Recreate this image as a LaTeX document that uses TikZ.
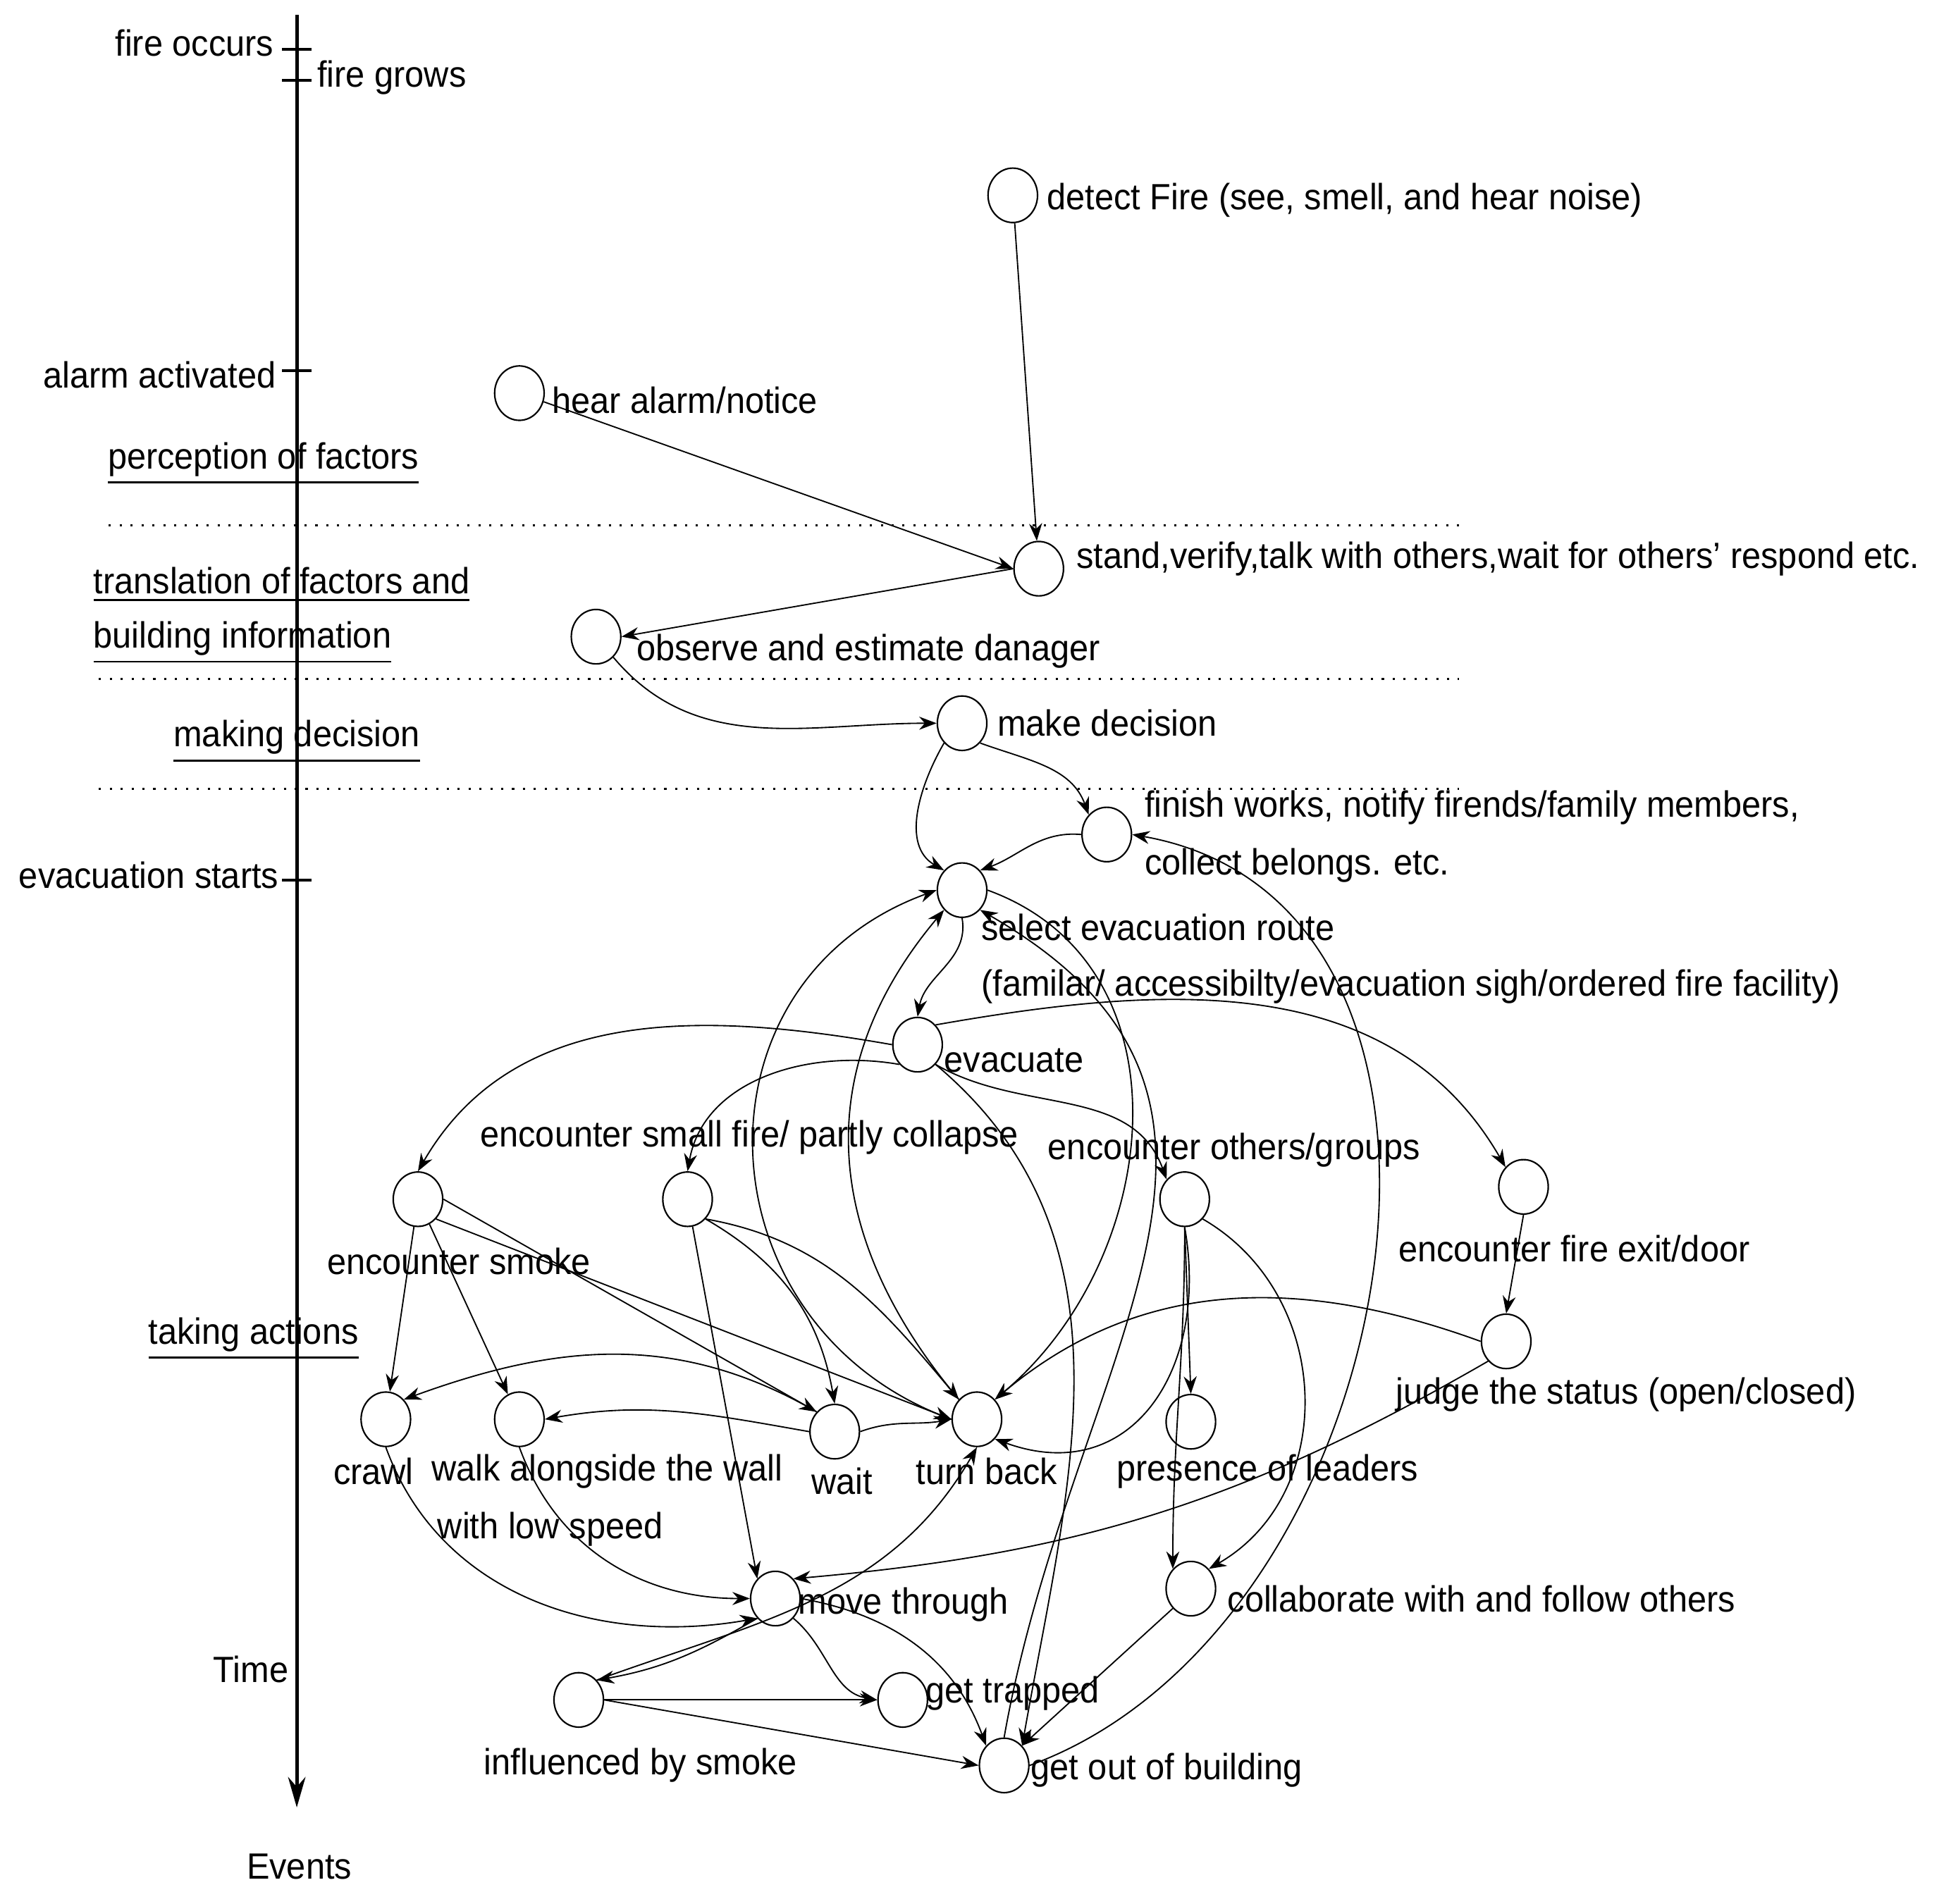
\documentclass[tikz,border=0pt]{standalone}
\usepackage{fontspec}
\setmainfont{Liberation Sans}[FakeStretch=0.94]
\usetikzlibrary{shapes.geometric,arrows.meta}
\begin{document}
\begin{tikzpicture}[x=0.01cm,y=-0.01cm,
 st/.style={draw,ellipse,minimum width=0.4cm,minimum height=0.44cm,inner sep=0pt,line width=0.35pt},
 lb/.style={anchor=west,inner sep=0pt,font=\fontsize{8.4}{10}\selectfont},
 lc/.style={inner sep=0pt,font=\fontsize{8.4}{10}\selectfont},
 e/.style={-{Stealth[length=4pt,width=3pt]},line width=0.3pt},
 dl/.style={dotted,line width=0.5pt}]
\useasboundingbox (0,0) rectangle (1568,1540);
% axis
\coordinate (t0) at (240,12); \coordinate (t1) at (240,1462);
\draw[-{Stealth[length=7pt,width=4pt]},line width=0.8pt] (t0) -- (t1);
\foreach \y in {40,65,300,712}{\draw[line width=0.6pt] (228,\y) -- (252,\y);}
\node[lc,anchor=east] at (222,35) {fire occurs};
\node[lb] at (256,63) {fire grows};
\node[lc,anchor=east] at (224,303) {alarm activated};
\node[lc,anchor=east] at (226,708) {evacuation starts};
\node[lc] at (203,1350) {Time};
\node[lc] at (242,1510) {Events};
% phase lines
\draw[dl] (88,425) -- (1185,425);
\draw[dl] (80,549) -- (1180,549);
\draw[dl] (80,638) -- (1180,638);
\node[lc] at (213,375) {\underline{perception of factors}};
\node[lb] at (75,473) {\underline{translation of factors and}};
\node[lb] at (75,520) {\underline{building information}};
\node[lc] at (240,600) {\underline{making decision}};
\node[lc] at (205,1083) {\underline{taking actions}};
% nodes
\node[st] (det) at (819,158) {};
\node[st] (hear) at (420,318) {};
\node[st] (stand) at (840,460) {};
\node[st] (obs) at (482,515) {};
\node[st] (dec) at (778,585) {};
\node[st] (fin) at (895,675) {};
\node[st] (sel) at (778,720) {};
\node[st] (eva) at (742,845) {};
\node[st] (smk) at (338,970) {};
\node[st] (sfire) at (556,970) {};
\node[st] (oth) at (958,970) {};
\node[st] (exit) at (1232,960) {};
\node[st] (judge) at (1218,1085) {};
\node[st] (crawl) at (312,1148) {};
\node[st] (walk) at (420,1148) {};
\node[st] (wait) at (675,1158) {};
\node[st] (turn) at (790,1148) {};
\node[st] (pres) at (963,1150) {};
\node[st] (move) at (627,1293) {};
\node[st] (coll) at (963,1285) {};
\node[st] (infl) at (468,1375) {};
\node[st] (trap) at (730,1375) {};
\node[st] (out) at (812,1428) {};
% labels
\node[lb] at (846,162) {detect Fire (see, smell, and hear noise)};
\node[lb] at (446,324) {hear alarm/notice};
\node[lb] at (870,452) {stand,verify,talk with others,wait for others' respond etc.};
\node[lb] at (514,527) {observe and estimate danager};
\node[lb] at (806,585) {make decision};
\node[lb] at (925,653) {finish works, notify firends/family members,};
\node[lb] at (925,700) {collect belongs. etc.};
\node[lb] at (793,750) {select evacuation route};
\node[lb] at (793,798) {(familar/ accessibilty/evacuation sigh/ordered fire facility)};
\node[lb] at (763,858) {evacuate};
\node[lc] at (606,920) {encounter small fire/ partly collapse};
\node[lc] at (998,930) {encounter others/groups};
\node[lc] at (1273,1010) {encounter fire exit/door};
\node[lc] at (371,1020) {encounter smoke};
\node[lc] at (1315,1128) {judge the status (open/closed)};
\node[lc] at (302,1190) {crawl};
\node[lc] at (491,1190) {walk alongside the wall};
\node[lc] at (445,1237) {with low speed};
\node[lc] at (681,1198) {wait};
\node[lc] at (798,1190) {turn back};
\node[lc] at (1025,1190) {presence of leaders};
\node[lb] at (645,1298) {move through};
\node[lb] at (992,1293) {collaborate with and follow others};
\node[lb] at (748,1370) {get trapped};
\node[lc] at (518,1428) {influenced by smoke};
\node[lb] at (833,1432) {get out of building};
% edges
\draw[e] (det) -- (stand);
\draw[e] (hear) -- (stand.west);
\draw[e] (stand.west) -- (obs.east);
\draw[e] (obs) to[out=-50,in=180] (dec.west);
\draw[e] (dec.south west) to[out=-120,in=150] (sel.north west);
\draw[e] (dec.south east) to[out=-20,in=110] (fin.north west);
\draw[e] (fin.west) to[out=175,in=20] (sel.north east);
\draw[e] (sel.south) to[out=-80,in=80] (eva.north);
\draw[e] (eva.west) to[out=170,in=60] (smk.north);
\draw[e] (eva.south west) to[out=170,in=80] (sfire.north);
\draw[e] (eva.south east) to[out=-30,in=110] (oth.north west);
\draw[e] (eva.north east) to[out=10,in=120] (exit.north west);
\draw[e] (eva.south east) to[out=-40,in=80] (out.north east);
% turn back / select arcs
\draw[e] (turn.west) to[out=160,in=200,looseness=1.3] (sel.west);
\draw[e] (turn.north west) to[out=130,in=230,looseness=1.1] (sel.south west);
\draw[e] (sel.east) to[out=-20,in=40,looseness=1.1] (turn.north east);
\draw[e] (out.north) to[out=80,in=-30,looseness=1.2] (sel.south east);
\draw[e] (out.east) to[out=20,in=-10,looseness=1.1] (fin.east);
% encounter smoke
\draw[e] (smk) -- (crawl);
\draw[e] (smk) -- (walk);
\draw[e] (smk.east) -- (wait.north west);
\draw[e] (smk.south east) -- (turn.west);
% small fire
\draw[e] (sfire) -- (move.north west);
\draw[e] (sfire.south east) to[out=-30,in=100] (wait.north);
\draw[e] (sfire.south east) to[out=-10,in=130] (turn.north west);
% wait
\draw[e] (wait.north west) to[out=150,in=20] (crawl.north east);
\draw[e] (wait.west) to[out=170,in=10] (walk.east);
\draw[e] (wait.east) to[out=20,in=190] (turn.west);
% to move through
\draw[e] (crawl.south) to[out=-70,in=190] (move.south west);
\draw[e] (walk.south) to[out=-70,in=180] (move.west);
\draw[e] (infl.north east) to[out=20,in=-120] (turn.south);
\draw[e] (move.south west) to[out=-150,in=10] (infl.north east);
\draw[e] (move.south east) to[out=-40,in=170] (trap.west);
\draw[e] (move.east) to[out=-10,in=110] (out.north west);
\draw[e] (infl.east) -- (trap.west);
\draw[e] (infl.east) -- (out.west);
\draw[e] (coll.south west) -- (out.north east);
% others
\draw[e] (oth.south) -- (pres.north);
\draw[e] (oth.south) to[out=-90,in=90] (coll.north west);
\draw[e] (oth.south east) to[out=-30,in=30,looseness=1.1] (coll.north east);
\draw[e] (oth.south) to[out=-80,in=-20,looseness=1.3] (turn.south east);
% exit / judge
\draw[e] (exit.south) -- (judge.north);
\draw[e] (judge.west) to[out=160,in=40] (turn.north east);
\draw[e] (judge.south west) to[out=-150,in=5] (move.north east);
\end{tikzpicture}
\end{document}
